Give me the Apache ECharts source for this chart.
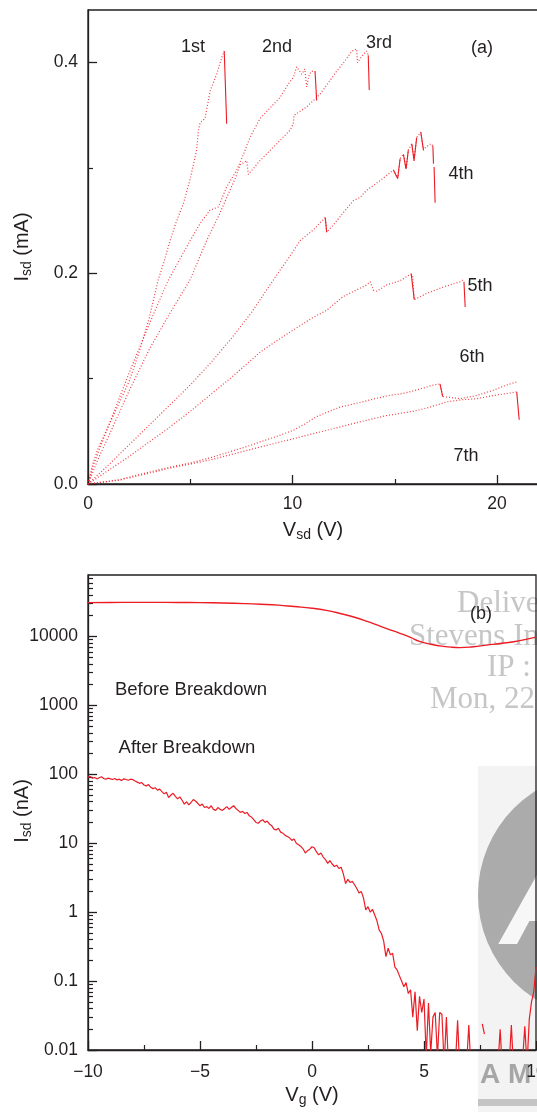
<!DOCTYPE html>
<html>
<head>
<meta charset="utf-8">
<style>
  html, body { margin: 0; padding: 0; background: #fff; }
  #chart { width: 537px; height: 1112px; }
</style>
<script src="https://cdn.jsdelivr.net/npm/echarts@6/dist/echarts.min.js"></script>
</head>
<body>
<div id="chart"></div>
<script>
// (a) I-V sweeps, [Vsd (V), Isd (mA)]
const curve1st = [[0,0],[0.25,0.02],[0.5,0.034],[1,0.055],[1.5,0.076],[2,0.097],[2.5,0.125],[3,0.158],[3.42,0.193],[3.7,0.21],[4.01,0.231],[4.3,0.248],[4.66,0.266],[5,0.29],[5.31,0.317],[5.4,0.336],[5.48,0.343],[5.72,0.347],[5.97,0.373],[6.29,0.389],[6.54,0.405],[6.66,0.411]];
const curve2nd = [[0,0],[0.25,0.017],[0.5,0.03],[1,0.055],[2,0.105],[3,0.152],[3.91,0.193],[4.99,0.231],[5.5,0.248],[5.97,0.26],[6.37,0.263],[6.78,0.282],[7.27,0.298],[7.6,0.313],[7.92,0.329],[8.41,0.347],[8.9,0.357],[9.39,0.367],[9.8,0.38],[10.04,0.386],[10.2,0.396],[10.45,0.389],[10.6,0.394],[10.69,0.377],[10.82,0.389],[10.94,0.392],[11.1,0.391]];
const curve3rd = [[0,0],[0.5,0.024],[1,0.045],[2,0.088],[3,0.128],[4,0.162],[4.97,0.193],[5.8,0.231],[6.4,0.255],[6.94,0.279],[7.2,0.29],[7.43,0.303],[7.76,0.307],[7.84,0.294],[8.41,0.307],[9.23,0.323],[9.88,0.336],[10.04,0.342],[10.07,0.35],[10.69,0.358],[11.34,0.37],[11.83,0.383],[12.16,0.392],[12.5,0.4],[12.9,0.411],[13.14,0.413],[13.17,0.4],[13.46,0.408],[13.63,0.411],[13.7,0.407]];
const curve4th = [[0,0],[1,0.018],[2,0.037],[3,0.056],[4,0.075],[5,0.094],[6,0.115],[7,0.138],[8,0.163],[9,0.192],[10,0.22],[10.37,0.231],[11,0.241],[11.6,0.253],[11.67,0.239],[12,0.246],[12.5,0.258],[12.97,0.269],[13.3,0.272],[13.63,0.279],[14.28,0.288],[14.93,0.298],[15.14,0.29],[15.26,0.309],[15.42,0.313],[15.55,0.299],[15.66,0.317],[15.83,0.323],[15.94,0.307],[16.07,0.329],[16.27,0.334],[16.4,0.317],[16.53,0.32],[16.76,0.323],[16.86,0.321]];
const curve5th = [[0,0],[1,0.013],[2,0.026],[3,0.04],[4,0.054],[5,0.069],[6,0.085],[7,0.101],[8,0.118],[8.41,0.125],[9,0.133],[9.78,0.143],[10.5,0.152],[11,0.158],[11.67,0.165],[12.48,0.178],[13,0.183],[13.63,0.189],[13.8,0.192],[13.95,0.184],[14.12,0.183],[14.6,0.189],[15.26,0.193],[15.75,0.199],[15.87,0.198],[15.95,0.175],[16.56,0.181],[17.37,0.187],[18.19,0.192],[18.35,0.194]];
const curve6th = [[0,0],[1.5,0.004],[2.5,0.009],[4,0.016],[5,0.02],[6,0.025],[7,0.031],[8,0.037],[8.41,0.04],[9.2,0.045],[10.04,0.051],[10.6,0.057],[11.18,0.064],[11.8,0.069],[12.32,0.073],[13.2,0.077],[14.03,0.081],[14.7,0.084],[15.42,0.086],[16.2,0.09],[16.89,0.094],[17.21,0.095],[17.34,0.083],[18.19,0.081],[19,0.084],[19.82,0.089],[20.47,0.094],[20.96,0.097]];
const curve7th = [[0,0],[1.5,0.0035],[2.5,0.008],[4,0.015],[5,0.019],[6,0.023],[7,0.028],[8,0.033],[8.41,0.035],[10.04,0.043],[11.67,0.051],[13.3,0.059],[14.6,0.065],[15.9,0.069],[16.72,0.073],[17.54,0.078],[18.3,0.08],[19,0.081],[19.82,0.084],[20.5,0.086],[20.96,0.0875]];

// breakdown jumps, drawn solid
const drops = [
  [[6.66,0.411],[6.78,0.342]],
  [[11.1,0.392],[11.18,0.364]],
  [[13.7,0.407],[13.75,0.374]],
  [[11.6,0.253],[11.67,0.239]],
  [[14.93,0.298],[15.14,0.29],[15.26,0.309]],
  [[15.42,0.313],[15.55,0.299],[15.66,0.317]],
  [[15.83,0.323],[15.94,0.307],[16.07,0.329]],
  [[16.27,0.334],[16.4,0.317]],
  [[16.86,0.321],[16.89,0.304]],
  [[16.92,0.301],[16.97,0.267]],
  [[15.8,0.2],[15.95,0.175]],
  [[18.38,0.192],[18.44,0.168]],
  [[17.21,0.095],[17.34,0.083]],
  [[20.96,0.0875],[21.08,0.061]]
];

const sweepLabels = ['1st', '2nd', '3rd', '4th', '5th', '6th', '7th'];

// (b) gate sweeps, Vg (V) and Isd (nA)
const vgBefore = [-10,-9,-8,-7,-6,-5,-4,-3,-2.3,-1.5,-0.8,0,0.7,1.3,1.9,2.5,2.9,3.4,3.9,4.4,4.8,5.3,5.7,6.2,6.6,7.2,7.8,8.4,9,9.5,10];
const isdBefore = [31000,31200,31300,31300,31200,31000,30600,30000,29400,28500,27200,25700,23700,21400,19000,16400,14700,12800,11200,9700,8500,7700,7300,7000,6900,7100,7500,7900,8400,9000,9800];

const vgAfter = [
  -10,-9.9,-9.8,-9.7,-9.6,-9.5,-9.4,-9.3,-9.2,-9.1,
  -9,-8.9,-8.8,-8.7,-8.6,-8.5,-8.4,-8.3,-8.2,-8.1,
  -8,-7.9,-7.8,-7.7,-7.6,-7.5,-7.4,-7.3,-7.2,-7.1,
  -7,-6.9,-6.8,-6.7,-6.6,-6.5,-6.4,-6.3,-6.2,-6.1,
  -6,-5.9,-5.8,-5.7,-5.6,-5.5,-5.4,-5.3,-5.2,-5.1,
  -5,-4.9,-4.8,-4.7,-4.6,-4.5,-4.4,-4.3,-4.2,-4.1,
  -4,-3.9,-3.8,-3.7,-3.6,-3.5,-3.4,-3.3,-3.2,-3.1,
  -3,-2.9,-2.8,-2.7,-2.6,-2.5,-2.4,-2.3,-2.2,-2.1,
  -2,-1.9,-1.8,-1.7,-1.6,-1.5,-1.4,-1.3,-1.2,-1.1,
  -1,-0.9,-0.8,-0.7,-0.6,-0.5,-0.4,-0.3,-0.2,-0.1,
  0,0.1,0.2,0.3,0.4,0.5,0.6,0.7,0.8,0.9,
  1,1.1,1.2,1.3,1.4,1.5,1.6,1.7,1.8,1.9,
  2,2.1,2.2,2.3,2.4,2.5,2.6,2.7,2.8,2.9,
  3,3.1,3.2,3.3,3.4,3.5,3.6,3.7,3.8,3.9,
  4,4.1,4.2,4.3,4.4,4.5,4.6,4.7,4.8,4.9,
  5,5.1,5.2,5.3,5.4,5.5,5.6,5.7,5.8,5.9,
  6,6.1,6.2,6.3,6.4,6.5,6.6,6.7,6.8,6.9,
  7,7.1,7.2,7.3,7.4,7.5,7.6,7.7,7.8,7.9,
  8,8.1,8.2,8.3,8.4,8.5,8.6,8.7,8.8,8.9,
  9,9.1,9.2,9.3,9.4,9.5,9.6,9.7,9.8,9.9,
  10
];
const isdAfter = [
  91,93,88,90,86,89,92,87,85,88,
  86,84,87,83,85,81,86,84,82,85,
  84,80,77,74,76,70,68,71,65,62,
  64,59,61,56,52,55,46,50,53,48,
  44,47,42,37,40,36,39,43,41,38,
  35,37,33,34,32,35,31,30,33,31,
  30,32,34,31,33,35,32,30,28,29,
  27,28,25,24,22,20,19.5,21,22,20,
  21,19,18,16,15.6,16.5,14.5,14,13,12.5,
  12,11,11.5,10,9.5,9,8.3,7.2,7.8,8.2,
  8.9,8.6,7.5,6.8,7.2,6.3,5.8,5.1,5.6,5.0,
  4.6,4.8,4.3,4.5,3.6,2.6,3.0,2.7,2.8,2.5,
  2.2,1.9,2.0,1.6,1.08,1.2,1.0,1.1,0.91,0.75,
  0.55,0.49,0.38,0.226,0.3,0.24,0.253,0.16,0.145,0.12,
  0.1,0.083,0.095,0.066,0.075,0.03,0.07,0.019,0.06,0.035,
  0.055,0.008,0.048,0.009,0.03,0.035,0.008,0.035,0.033,0.006,
  0.03,0.005,null,null,0.006,0.027,0.005,null,null,0.006,
  0.023,0.005,null,null,null,null,0.024,0.017,null,null,
  null,null,null,0.006,0.02,0.005,null,null,0.006,0.023,
  0.005,null,null,null,0.007,0.022,0.006,0.028,0.05,0.07,
  0.16
];

const FONT = '"Liberation Sans", Arial, sans-serif';
const INK = '#231f20';
const RED = '#ec1c24';
const LOG_MAX = 78000;

const zip = (xs, ys) => xs.map((x, i) => [x, ys[i] == null ? '-' : ys[i]]);

// minor ticks of the log axis, in decades
const logMinor = [];
for (let n = -2; n <= 4; n++) {
  for (let k = 2; k <= 9; k++) logMinor.push(n + Math.log10(k));
}

const frameLine = { show: true, onZero: false, lineStyle: { color: INK, width: 1.3 } };
const labelStyle = { color: INK, fontFamily: FONT, fontSize: 17.5 };
const noSplit = { show: false };

function majorTick(values) {
  const t = { show: true, inside: true, length: 9, lineStyle: { color: INK, width: 1.3 } };
  if (values) t.customValues = values;
  return t;
}
function minorOverlay(dim, grid, min, max, values) {
  return {
    type: 'value', gridIndex: grid, min: min, max: max,
    position: dim === 'x' ? 'bottom' : 'left',
    axisLine: { show: false, onZero: false },
    axisTick: { show: true, inside: true, length: 5, customValues: values, lineStyle: { color: INK, width: 1.2 } },
    axisLabel: { show: false },
    splitLine: noSplit
  };
}

const richName = {
  m: { fontSize: 20, fontFamily: FONT, fill: INK, color: INK, lineHeight: 24, verticalAlign: 'middle' },
  s: { fontSize: 14, fontFamily: FONT, fill: INK, color: INK, lineHeight: 14, verticalAlign: 'bottom' }
};
function nameText(text, x, y, rot) {
  return {
    type: 'text', x: x, y: y, rotation: rot || 0, z: 10,
    style: { text: text, rich: richName, align: 'center', verticalAlign: 'middle', fill: INK }
  };
}
function plainText(text, x, y, size) {
  return {
    type: 'text', x: x, y: y, z: 10,
    style: { text: text, fontSize: size || 18, fontFamily: FONT, fill: INK, align: 'center', verticalAlign: 'middle' }
  };
}
function stampText(text, x, y) {
  return {
    type: 'text', x: x, y: y, z: -1,
    style: { text: text, fontSize: 31, fontFamily: '"Liberation Serif", serif', fill: '#c6c6c6', align: 'left', verticalAlign: 'middle' }
  };
}

const labelPos = [[193,47],[277,47],[379,43],[461,174],[480,286],[472,357],[466,456]];

const topCurves = [curve1st, curve2nd, curve3rd, curve4th, curve5th, curve6th, curve7th];

const series = [];
topCurves.forEach(d => {
  series.push({
    type: 'line', xAxisIndex: 0, yAxisIndex: 0, data: d,
    symbol: 'none', silent: true,
    lineStyle: { color: RED, width: 1.2, type: [1, 2], opacity: 0.85 }
  });
});
drops.forEach(d => {
  series.push({
    type: 'line', xAxisIndex: 0, yAxisIndex: 0, data: d,
    symbol: 'none', silent: true,
    lineStyle: { color: RED, width: 1.1 }
  });
});
series.push({
  type: 'line', xAxisIndex: 2, yAxisIndex: 2, data: zip(vgBefore, isdBefore),
  symbol: 'none', smooth: true, silent: true,
  lineStyle: { color: RED, width: 1.4 }
});
series.push({
  type: 'line', xAxisIndex: 2, yAxisIndex: 2, data: zip(vgAfter, isdAfter),
  symbol: 'none', silent: true, connectNulls: false,
  lineStyle: { color: RED, width: 1.2 }
});

const option = {
  animation: false,
  backgroundColor: '#fff',
  grid: [
    { left: 88, top: 10, width: 450, height: 474, show: true, borderColor: INK, borderWidth: 1.3, containLabel: false, outerBoundsMode: 'none' },
    { left: 88, top: 575, width: 448, height: 475, show: true, borderColor: INK, borderWidth: 1.3, containLabel: false, outerBoundsMode: 'none' }
  ],
  xAxis: [
    {
      type: 'value', gridIndex: 0, min: 0, max: 22, position: 'bottom',
      axisLine: frameLine, axisTick: majorTick([0, 10, 20]),
      axisLabel: Object.assign({ customValues: [0, 10, 20], margin: 11 }, labelStyle),
      splitLine: noSplit
    },
    minorOverlay('x', 0, 0, 22, [5, 15]),
    {
      type: 'value', gridIndex: 1, min: -10, max: 10, interval: 5, position: 'bottom',
      axisLine: frameLine, axisTick: majorTick(),
      minorTick: { show: true, splitNumber: 2, length: 5, lineStyle: { color: INK, width: 1.2 } },
      axisLabel: Object.assign({
        margin: 13,
        formatter: v => (v < 0 ? '\u2212' + Math.abs(v) : String(v))
      }, labelStyle),
      splitLine: noSplit, minorSplitLine: noSplit
    }
  ],
  yAxis: [
    {
      type: 'value', gridIndex: 0, min: 0, max: 0.45, position: 'left',
      axisLine: frameLine, axisTick: majorTick([0, 0.2, 0.4]),
      axisLabel: Object.assign({ customValues: [0, 0.2, 0.4], margin: 10, formatter: v => v.toFixed(1) }, labelStyle),
      splitLine: noSplit
    },
    minorOverlay('y', 0, 0, 0.45, [0.1, 0.3]),
    {
      type: 'log', logBase: 10, gridIndex: 1, min: 0.01, max: LOG_MAX, position: 'left',
      axisLine: frameLine, axisTick: majorTick(),
      axisLabel: Object.assign({ margin: 10, showMaxLabel: false, formatter: v => String(+v.toPrecision(3)) }, labelStyle),
      splitLine: noSplit
    },
    minorOverlay('y', 1, -2, Math.log10(LOG_MAX), logMinor)
  ],
  series: series,
  graphic: [
    // scan leftovers in the lower right corner
    { type: 'rect', z: -2, shape: { x: 478, y: 766, width: 60, height: 346 }, style: { fill: '#f3f3f3' } },
    { type: 'circle', z: -2, shape: { cx: 601, cy: 895, r: 123 }, style: { fill: '#ababab' } },
    { type: 'text', z: -2, x: 548, y: 908, style: { text: 'A', fontSize: 130, fontWeight: 'bold', fontStyle: 'italic', fontFamily: FONT, fill: '#f7f7f7', align: 'center', verticalAlign: 'middle' } },
    { type: 'text', z: -2, x: 480, y: 1075, style: { text: 'A M', fontSize: 28, fontWeight: 'bold', fontFamily: FONT, fill: '#a6a6a6', align: 'left', verticalAlign: 'middle' } },
    { type: 'rect', z: -2, shape: { x: 478, y: 1099, width: 60, height: 7 }, style: { fill: '#c4c4c4' } },
    stampText('Delive', 457, 604),
    stampText('Stevens In', 409, 637),
    stampText('IP :', 487, 668),
    stampText('Mon, 22', 430, 700),

    nameText('{m|I}{s|sd}{m| (mA)}', 22, 247, Math.PI / 2),
    nameText('{m|V}{s|sd}{m| (V)}', 313, 530),
    nameText('{m|I}{s|sd}{m| (nA)}', 22, 811, Math.PI / 2),
    nameText('{m|V}{s|g}{m| (V)}', 312, 1095),

    plainText('(a)', 482, 48),
    plainText('(b)', 481, 614),
    plainText('Before Breakdown', 191, 690, 18.5),
    plainText('After Breakdown', 187, 748, 18.5)
  ].concat(sweepLabels.map((t, i) => plainText(t, labelPos[i][0], labelPos[i][1], 18)))
};

const chart = echarts.init(document.getElementById('chart'), null, { renderer: 'canvas' });
chart.setOption(option);
</script>
</body>
</html>
